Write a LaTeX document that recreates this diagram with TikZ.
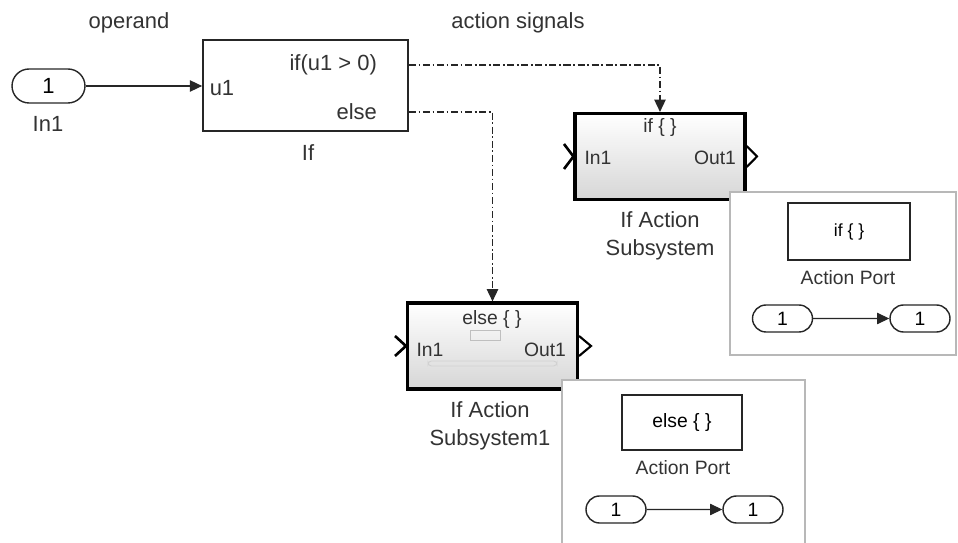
\documentclass[tikz,border=0pt]{standalone}
\usepackage{fontspec}
\setmainfont{Liberation Sans}
\usetikzlibrary{arrows.meta,positioning,shapes.misc}

\begin{document}
\begin{tikzpicture}[x=0.02cm, y=-0.02cm,
      lbl/.style={font=\fontsize{12.5}{16}\selectfont, text=black!80, inner sep=1pt},
      inr/.style={font=\fontsize{11}{13}\selectfont, text=black!80, inner sep=1pt},
      port/.style={rounded rectangle, draw=black!85, line width=0.8pt, inner sep=0pt,
        minimum width=1.2cm, minimum height=0.54cm, font=\fontsize{11}{13}\selectfont},
      blk/.style={draw=black!85, line width=1pt, fill=white, inner sep=0pt},
      sub/.style={draw=black, line width=1.8pt, top color=white, bottom color=black!16,
        inner sep=0pt, minimum width=3.4cm, minimum height=1.72cm},
      inset/.style={draw=black!28, line width=0.6pt, fill=white},
      sig/.style={-{Triangle[length=7pt,width=6.5pt]}, line width=0.7pt, draw=black!85},
      act/.style={sig, dash pattern=on 4pt off 1.5pt on 1pt off 1.5pt}]
    \useasboundingbox (0,0) rectangle (958,543);
    % operand
    \node[port, minimum width=1.46cm, minimum height=0.68cm, font=\fontsize{12.5}{14}\selectfont] (in1) at (48.5,86) {1};
    \node[lbl] (in1lbl) at (48,124) {In1};
    \node[lbl] (operand) at (129,23) {operand};
    % if block
    \node[blk, minimum width=4.1cm, minimum height=1.82cm] (if) at (305.5,85.5) {};
    \node[lbl] (u1) at (222,88) {u1};
    \node[lbl, anchor=east] (ifc) at (379,65) {if(u1 > 0)};
    \node[lbl, anchor=east] (elsec) at (379,112) {else};
    \node[lbl] (iflbl) at (308,153) {If};
    \node[lbl] (actsig) at (518,23) {action signals};
    \draw[sig] (in1.east) -- (in1.east -| if.west);
    % action subsystems
    \node[sub] (ias) at (660,156.5) {};
    \node[inr] (iastop) at (660,128) {if \{ \}};
    \node[inr] (iasin) at (598,158) {In1};
    \node[inr] (iasout) at (715,158) {Out1};
    \draw[line width=1.5pt] (564,144) -- (ias.west) -- (564,169);
    \draw[line width=1.2pt] (ias.east |- 0,146) -- (757,156.5) -- (ias.east |- 0,167);
    \node[lbl, align=center] (iaslbl) at (660,236) {If Action\\Subsystem};

    \node[sub] (ias1) at (492.5,346) {};
    \node[inr] (ias1top) at (492,320) {else \{ \}};
    \node[inr] (ias1in) at (430,350) {In1};
    \node[inr] (ias1out) at (545,350) {Out1};
    \draw[black!25, line width=0.5pt] (470,330) rectangle (500,340);
    \draw[black!18, line width=0.5pt, rounded corners=2pt] (428,361) rectangle (557,366);
    \draw[line width=1.5pt] (395,336) -- (ias1.west) -- (395,356);
    \draw[line width=1.2pt] (ias1.east |- 0,336) -- (591,346) -- (ias1.east |- 0,356);
    \node[lbl, align=center] (ias1lbl) at (490,426) {If Action\\Subsystem1};
    % action signals
    \draw[act] (ifc -| if.east) -| (ias.north);
    \draw[act] (elsec -| if.east) -| (ias1.north);
    % insets
    \draw[inset] (730,192) rectangle (956,355);
    \node[blk, minimum width=2.44cm, minimum height=1.14cm, font=\fontsize{10}{12}\selectfont] (ifport) at (849,231.5) {if \{ \}};
    \node[inr] (ifportlbl) at (848,278) {Action Port};
    \node[port] (ifa) at (782.5,318.5) {1};
    \node[port] (ifb) at (920,318.5) {1};
    \draw[sig, line width=0.6pt] (ifa) -- (ifb);

    \draw[inset] (562,380) rectangle (805,548);
    \node[blk, minimum width=2.4cm, minimum height=1.1cm, font=\fontsize{11}{13}\selectfont] (elseport) at (682,422.5) {else \{ \}};
    \node[inr] (elseportlbl) at (683,468) {Action Port};
    \node[port] (elsea) at (616,509.5) {1};
    \node[port] (elseb) at (753,509.5) {1};
    \draw[sig, line width=0.6pt] (elsea) -- (elseb);
\end{tikzpicture}
\end{document}
